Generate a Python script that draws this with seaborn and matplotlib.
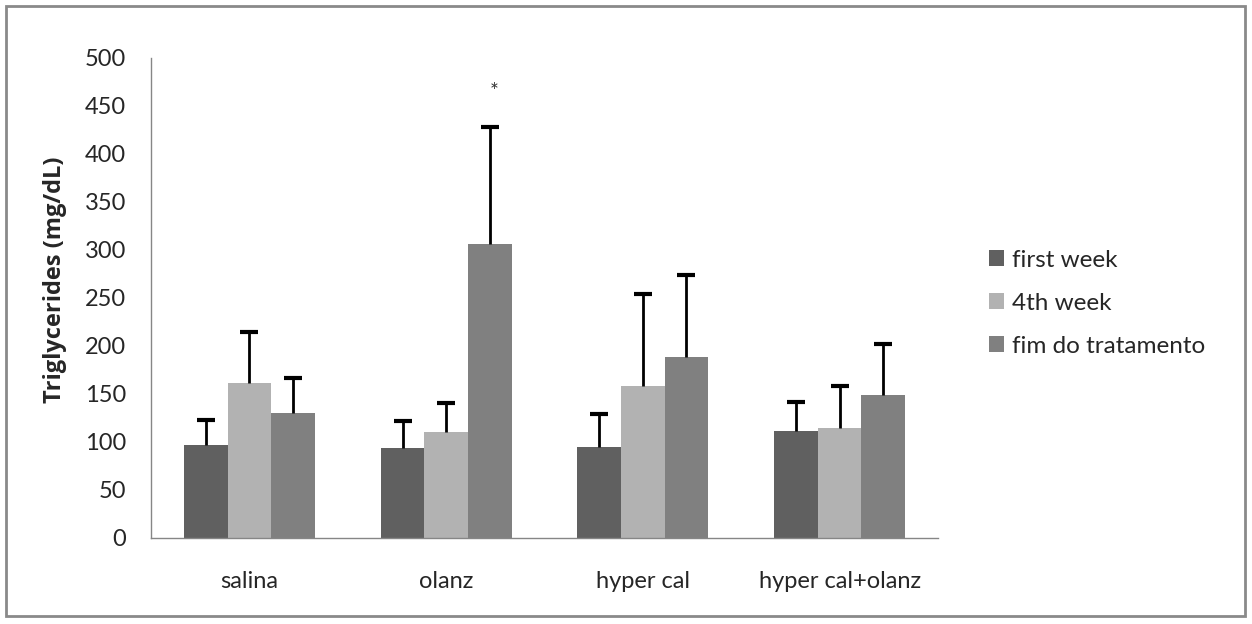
import numpy as np
import pandas as pd
import matplotlib
matplotlib.use("Agg")
import matplotlib.pyplot as plt
import seaborn as sns
from matplotlib.patches import Rectangle, Patch

categories = ["salina", "olanz", "hyper cal", "hyper cal+olanz"]
series = ["first week", "4th week", "fim do tratamento"]
first_week = [97, 94, 95, 111]
fourth_week = [161, 110, 158, 115]
fim_trat = [130, 306, 189, 149]
first_week_err = [123, 122, 129, 142]
fourth_week_err = [215, 141, 254, 158]
fim_trat_err = [167, 428, 274, 202]
yticks = [0, 50, 100, 150, 200, 250, 300, 350, 400, 450, 500]
colors = ["#606060", "#b2b2b2", "#808080"]

sns.set_style("white")
plt.rcParams["font.family"] = ["Lato", "DejaVu Sans"]

values = [first_week, fourth_week, fim_trat]
errtops = [first_week_err, fourth_week_err, fim_trat_err]
rows = []
for s, vals in zip(series, values):
    for c, v in zip(categories, vals):
        rows.append({"cat": c, "series": s, "val": v})
df = pd.DataFrame(rows)

W, H = 1252, 624
fig = plt.figure(figsize=(W / 100, H / 100), dpi=100)
ax = fig.add_axes([151 / W, 1 - 538 / H, (938 - 151) / W, (538 - 58) / H])

sns.barplot(data=df, x="cat", y="val", hue="series", order=categories,
            hue_order=series, palette=colors, width=0.665, saturation=1,
            errorbar=None, ax=ax, legend=False)

for cont, tops in zip(ax.containers, errtops):
    for bar, top in zip(cont.patches, tops):
        bar.set_edgecolor("none")
        xc = bar.get_x() + bar.get_width() / 2
        h = bar.get_height()
        _, caps, _ = ax.errorbar([xc], [h], yerr=[[0], [top - h]], fmt="none",
                                 ecolor="black", elinewidth=2, capsize=6.5,
                                 capthick=3, zorder=3)
        caps[0].set_visible(False)

# significance marker above olanz / fim do tratamento
b = ax.containers[2].patches[1]
ax.text(b.get_x() + b.get_width() / 2 + 0.02, 465, "*", ha="center",
        va="center", fontsize=15, color="#333333")

ax.set_xlim(-0.5, len(categories) - 0.5)
ax.set_ylim(0, 500)
ax.set_yticks(yticks)
ax.set_yticklabels([str(t) for t in yticks])
ax.set_xticks(np.arange(-0.5, len(categories) + 0.5, 1), minor=True)
ax.tick_params(axis="x", which="major", length=0, pad=24, labelsize=17)
ax.tick_params(axis="x", which="minor", length=8, color="#868686", width=1, direction="out")
ax.tick_params(axis="y", length=6, color="#868686", width=1, direction="out", pad=12, labelsize=17)
ax.set_xlabel("")
ax.set_ylabel("Triglycerides (mg/dL)", fontsize=17, fontweight="bold",
              family=["Open Sans", "DejaVu Sans"])
ax.yaxis.set_label_coords(-84 / (938 - 151), (538 - 280) / (538 - 58))
for sp in ["top", "right"]:
    ax.spines[sp].set_visible(False)
for sp in ["left", "bottom"]:
    ax.spines[sp].set_color("#868686")
    ax.spines[sp].set_linewidth(1)

handles = [Patch(facecolor=c, edgecolor="none") for c in colors]
leg = fig.legend(handles, series, loc="upper left",
                 bbox_to_anchor=(967 / W, 1 - 228 / H), frameon=False,
                 fontsize=17.5, handlelength=0.62, handleheight=0.62,
                 handletextpad=0.35, labelspacing=0.9)

fig.patches.append(Rectangle((6 / W, 1 - 616 / H), (1245 - 6) / W, (616 - 6) / H,
                             transform=fig.transFigure, fill=False,
                             edgecolor="#8a8a8a", linewidth=2))

fig.savefig("out.png", dpi=100)
